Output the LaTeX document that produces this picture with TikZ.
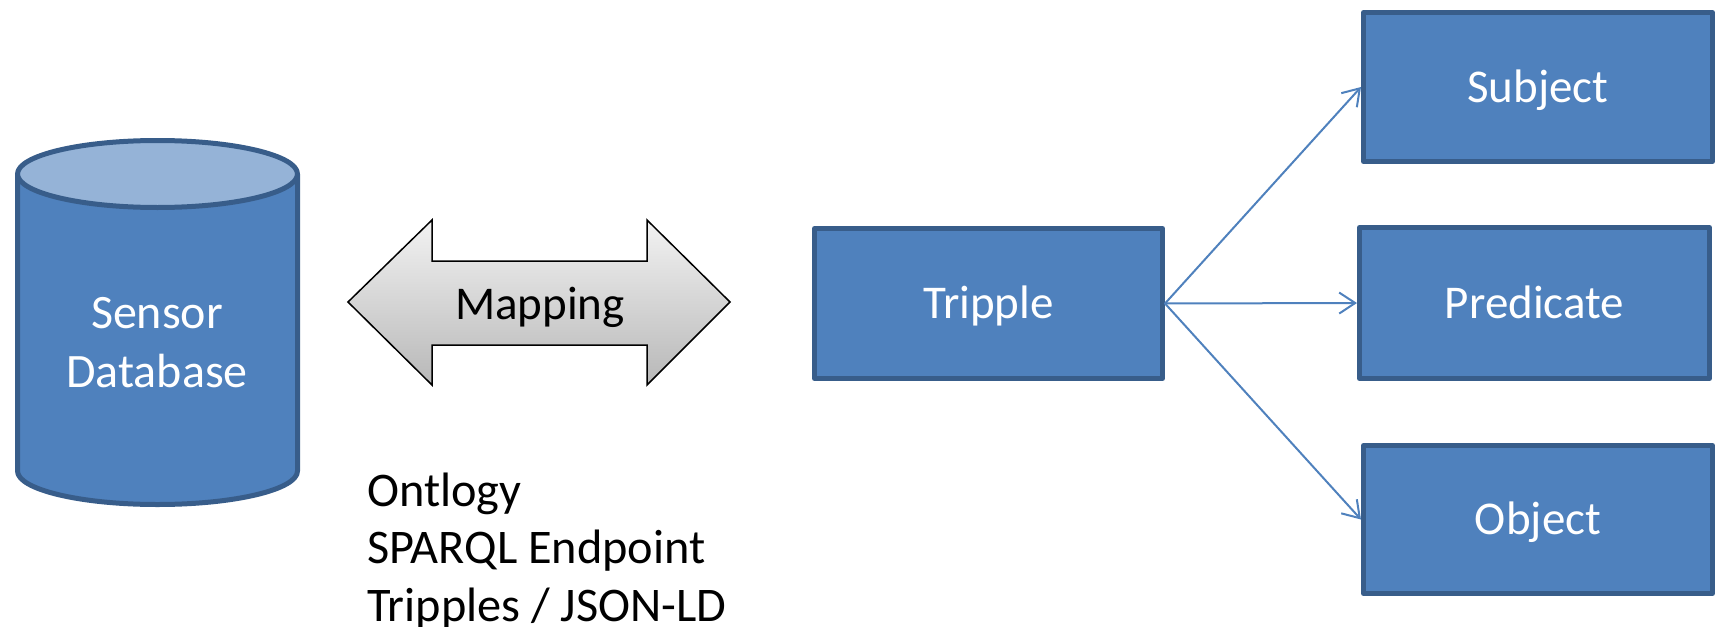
\documentclass[tikz,border=0pt]{standalone}
\usepackage{fontspec}
\setmainfont{Carlito}
\usetikzlibrary{arrows.meta}
\definecolor{boxfill}{HTML}{4F81BD}
\definecolor{boxedge}{HTML}{385D8A}
\definecolor{captop}{HTML}{95B3D7}
\begin{document}
\begin{tikzpicture}[x=1pt, y=1pt,
  font=\fontsize{47}{57.5}\selectfont,
  block/.style={rectangle, fill=boxfill, draw=boxedge, line width=5pt,
    line join=round, text=white, inner sep=0pt,
    minimum width=348pt, minimum height=150pt,
    text height=30pt, text depth=0pt},
  link/.style={draw=boxfill, line width=2pt, line cap=round,
    -{Straight Barb[length=16pt, width=21pt]}},
  dbline/.style={draw=boxedge, line width=5pt, line join=round},
  caption/.style={inner sep=0pt, align=left, anchor=west,
    font=\fontsize{48.3}{57.5}\selectfont}
]
\useasboundingbox (0,0) rectangle (1720,-626);

% database cylinder
\path[dbline, fill=boxfill] (17.5,-174) -- (17.5,-471)
  arc[start angle=180, end angle=360, x radius=140, y radius=33.5]
  -- (297.5,-174);
\path[dbline, fill=captop] (157.5,-174) ellipse[x radius=140, y radius=33.5];
\node[align=center, text=white, inner sep=0pt,
  font=\fontsize{48}{59}\selectfont] (db) at (157,-343) {Sensor\\Database};

% two-way mapping arrow
\path[draw=black, line width=1.5pt, line join=miter,
  top color=black!5, bottom color=black!28]
  (348,-302) -- (432,-220) -- (432,-261) -- (647,-261) -- (647,-220)
  -- (730,-302) -- (647,-385) -- (647,-345) -- (432,-345) -- (432,-385) -- cycle;
\node[inner sep=0pt, text height=30pt, text depth=0pt] (map) at (540,-304) {Mapping};

\node[caption] (notes) at (367,-551) {Ontlogy\\SPARQL Endpoint\\Tripples / JSON-LD};

% triple and its parts
\node[block] (trip) at (988.5,-303.5) {Tripple};
\node[block, minimum width=349pt, minimum height=149pt] (subj) at (1538,-87) {Subject};
\node[block, minimum width=350pt, minimum height=151pt] (pred) at (1534.5,-303) {Predicate};
\node[block, minimum width=349pt, minimum height=148pt] (obj) at (1538,-519.5) {Object};

\draw[link] (trip.east) -- (subj.west);
\draw[link] (trip.east) -- (pred.west);
\draw[link] (trip.east) -- (obj.west);
\end{tikzpicture}
\end{document}
